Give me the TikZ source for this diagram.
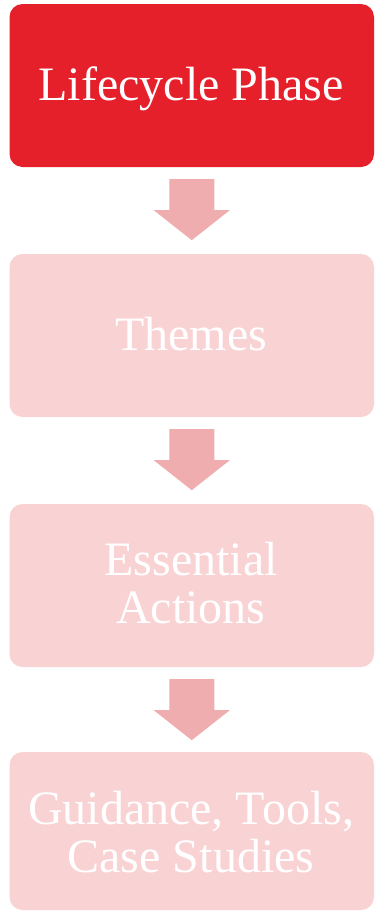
\documentclass[tikz,border=0pt]{standalone}
\usepackage{fontspec}
\setmainfont{Liberation Serif}
\usetikzlibrary{calc}
\definecolor{phasered}{HTML}{E5202A}
\definecolor{lightpink}{HTML}{F9D2D4}
\definecolor{arrowpink}{HTML}{F0ADAF}
\tikzset{
  box/.style={rectangle, rounded corners=13pt, inner sep=0pt, minimum width=364.5pt},
  lbl/.style={text=white, inner sep=0pt, align=center, font=\fontsize{48}{48}\selectfont},
  arrowfill/.style={fill=arrowpink, draw=none},
}
\newcommand\flowarrow[1]{%
  \fill[arrowfill] ($(#1)+(-22.5pt,-12pt)$) -- ($(#1)+(22.5pt,-12pt)$) -- ($(#1)+(22.5pt,-43pt)$)
    -- ($(#1)+(38pt,-43pt)$) -- ($(#1)+(0pt,-73pt)$) -- ($(#1)+(-38pt,-43pt)$)
    -- ($(#1)+(-22.5pt,-43pt)$) -- cycle;}
\begin{document}
\begin{tikzpicture}
\useasboundingbox[fill=white] (0pt,0pt) rectangle (375pt,-911pt);
\node[box, fill=phasered, minimum height=163pt] (b1) at (191.75pt,-85.5pt) {};
\node[box, fill=lightpink, minimum height=163pt] (b2) at (191.75pt,-335.5pt) {};
\node[box, fill=lightpink, minimum height=163pt] (b3) at (191.75pt,-585.5pt) {};
\node[box, fill=lightpink, minimum height=158pt] (b4) at (191.75pt,-831pt) {};
\node[lbl, anchor=base] (t1) at (191pt,-100pt) {Lifecycle Phase};
\node[lbl, anchor=base] (t2) at (191pt,-350pt) {Themes};
\node[lbl, anchor=base] (t3) at (191pt,-623pt) {Essential\\Actions};
\node[lbl, anchor=base] (t4) at (191pt,-872pt) {Guidance, Tools,\\Case Studies};
\flowarrow{b1.south}
\flowarrow{b2.south}
\flowarrow{b3.south}
\end{tikzpicture}
\end{document}
